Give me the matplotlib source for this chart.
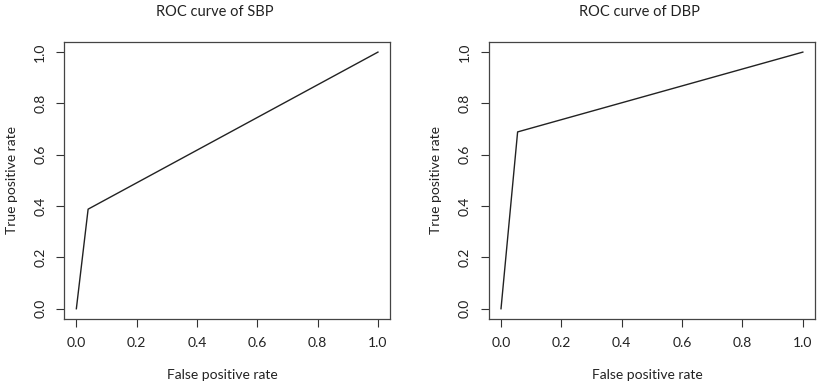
import matplotlib
matplotlib.use("Agg")
import matplotlib.pyplot as plt

plt.rcParams['font.family'] = ['Lato', 'DejaVu Sans']

sbp_fpr = [0.0, 0.039, 1.0]
sbp_tpr = [0.0, 0.388, 1.0]
dbp_fpr = [0.0, 0.055, 1.0]
dbp_tpr = [0.0, 0.689, 1.0]
titles = ["ROC curve of SBP", "ROC curve of DBP"]
ticks = [0.0, 0.2, 0.4, 0.6, 0.8, 1.0]
tick_labels = ["0.0", "0.2", "0.4", "0.6", "0.8", "1.0"]

fig = plt.figure(figsize=(8.19, 3.86), dpi=100)
axes = [fig.add_axes([0.0785, 0.1736, 0.3977, 0.718]),
        fig.add_axes([0.597, 0.1736, 0.398, 0.718])]

ax_h_px = 0.718 * 386

for ax, fx, ty, title in zip(axes, [sbp_fpr, dbp_fpr], [sbp_tpr, dbp_tpr], titles):
    ax.plot(fx, ty, color='#222222', lw=1.0)
    ax.set_xlim(-0.04, 1.04)
    ax.set_ylim(-0.04, 1.04)
    ax.set_xticks(ticks)
    ax.set_xticklabels(tick_labels)
    ax.set_yticks(ticks)
    ax.set_yticklabels(tick_labels, rotation=90, va='center')
    ax.tick_params(direction='out', length=6, width=0.8, colors='#333333',
                   labelsize=10, pad=7, labelcolor='#222222')
    for s in ax.spines.values():
        s.set_color('#444444')
        s.set_linewidth(0.9)
    ax.set_title(title, fontsize=10.5, color='#222222', pad=0,
                 x=0.463, y=1.0 + 26 / ax_h_px)
    ax.set_xlabel("False positive rate", fontsize=10, color='#222222')
    ax.xaxis.set_label_coords(0.485, -50 / ax_h_px)
    ax.set_ylabel("True positive rate", fontsize=10, color='#222222', labelpad=12)

fig.savefig("out.png", dpi=100)
